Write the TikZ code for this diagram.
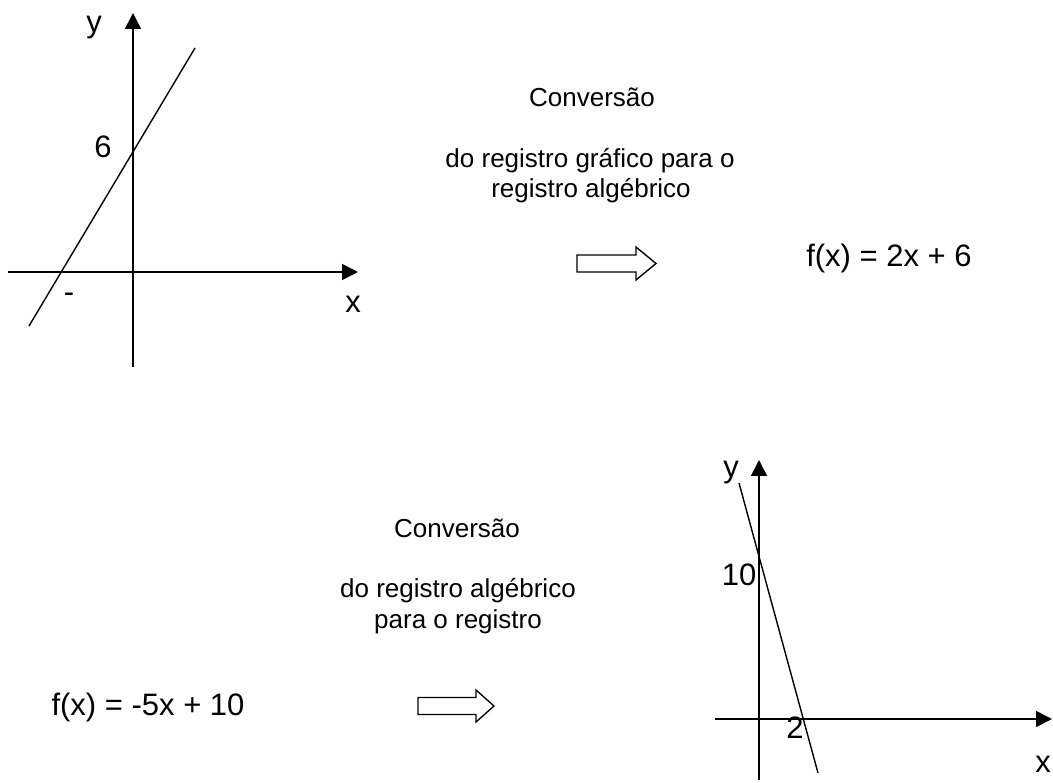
\documentclass[tikz,border=0pt]{standalone}
\usepackage{fontspec}
\setmainfont{Liberation Sans}
\usetikzlibrary{arrows.meta}
\tikzset{
  conv/.style={font=\fontsize{26}{30}\selectfont, anchor=base, inner sep=0pt},
  formula/.style={font=\fontsize{31}{36}\selectfont, anchor=base, inner sep=0pt},
  axislab/.style={font=\fontsize{31}{36}\selectfont, anchor=base, inner sep=0pt},
  axis/.style={line width=1.6pt, -{Triangle[length=16pt,width=16pt]}},
  graphline/.style={line width=1.4pt},
  blockarrow/.style={line width=1.4pt, fill=white, line join=miter}
}
\begin{document}
\begin{tikzpicture}[x=1pt,y=-1pt]
\useasboundingbox (0,0) rectangle (1053,783);

% ---------- top graph ----------
\coordinate (ty0) at (133,367);
\coordinate (ty1) at (133,13);
\coordinate (tx0) at (8,272);
\coordinate (tx1) at (358,272);
\coordinate (tl0) at (29,326);
\coordinate (tl1) at (195,48);
\draw[axis] (ty0) -- (ty1);
\draw[axis] (tx0) -- (tx1);
\draw[graphline] (tl0) -- (tl1);
\node[axislab] (tylab) at (94,33) {y};
\node[axislab] (t6) at (103,158) {6};
\node[axislab] (tminus) at (69,303) {-};
\node[axislab] (txlab) at (353,313) {x};

% ---------- top text ----------
\node[conv] (c1) at (592,107) {Conversão};
\node[conv] (c2) at (590,168) {do registro gráfico para o};
\node[conv] (c3) at (591,198) {registro algébrico};
\draw[blockarrow] (577,255) -- (636,255) -- (636,247) -- (656,263.5) -- (636,280) -- (636,272) -- (577,272) -- cycle;
\node[formula] (f1) at (889,267) {f(x) = 2x + 6};

% ---------- bottom text ----------
\node[conv] (d1) at (457,538) {Conversão};
\node[conv] (d2) at (458,597) {do registro algébrico};
\node[conv] (d3) at (458,628) {para o registro};
\node[formula] (f2) at (148,715) {f(x) = -5x + 10};
\draw[blockarrow] (418,697.5) -- (476,697.5) -- (476,690) -- (494,706) -- (476,722) -- (476,714.5) -- (418,714.5) -- cycle;

% ---------- bottom graph ----------
\coordinate (by0) at (759,780);
\coordinate (by1) at (759,460);
\coordinate (bx0) at (715,719);
\coordinate (bx1) at (1052,719);
\coordinate (bl0) at (739,483);
\coordinate (bl1) at (818,773);
\draw[axis] (by0) -- (by1);
\draw[axis] (bx0) -- (bx1);
\draw[graphline] (bl0) -- (bl1);
\node[axislab] (bylab) at (731,478) {y};
\node[axislab] (b10) at (739,585) {10};
\node[axislab] (b2) at (795,738) {2};
\node[axislab] (bxlab) at (1043,772) {x};
\end{tikzpicture}
\end{document}
